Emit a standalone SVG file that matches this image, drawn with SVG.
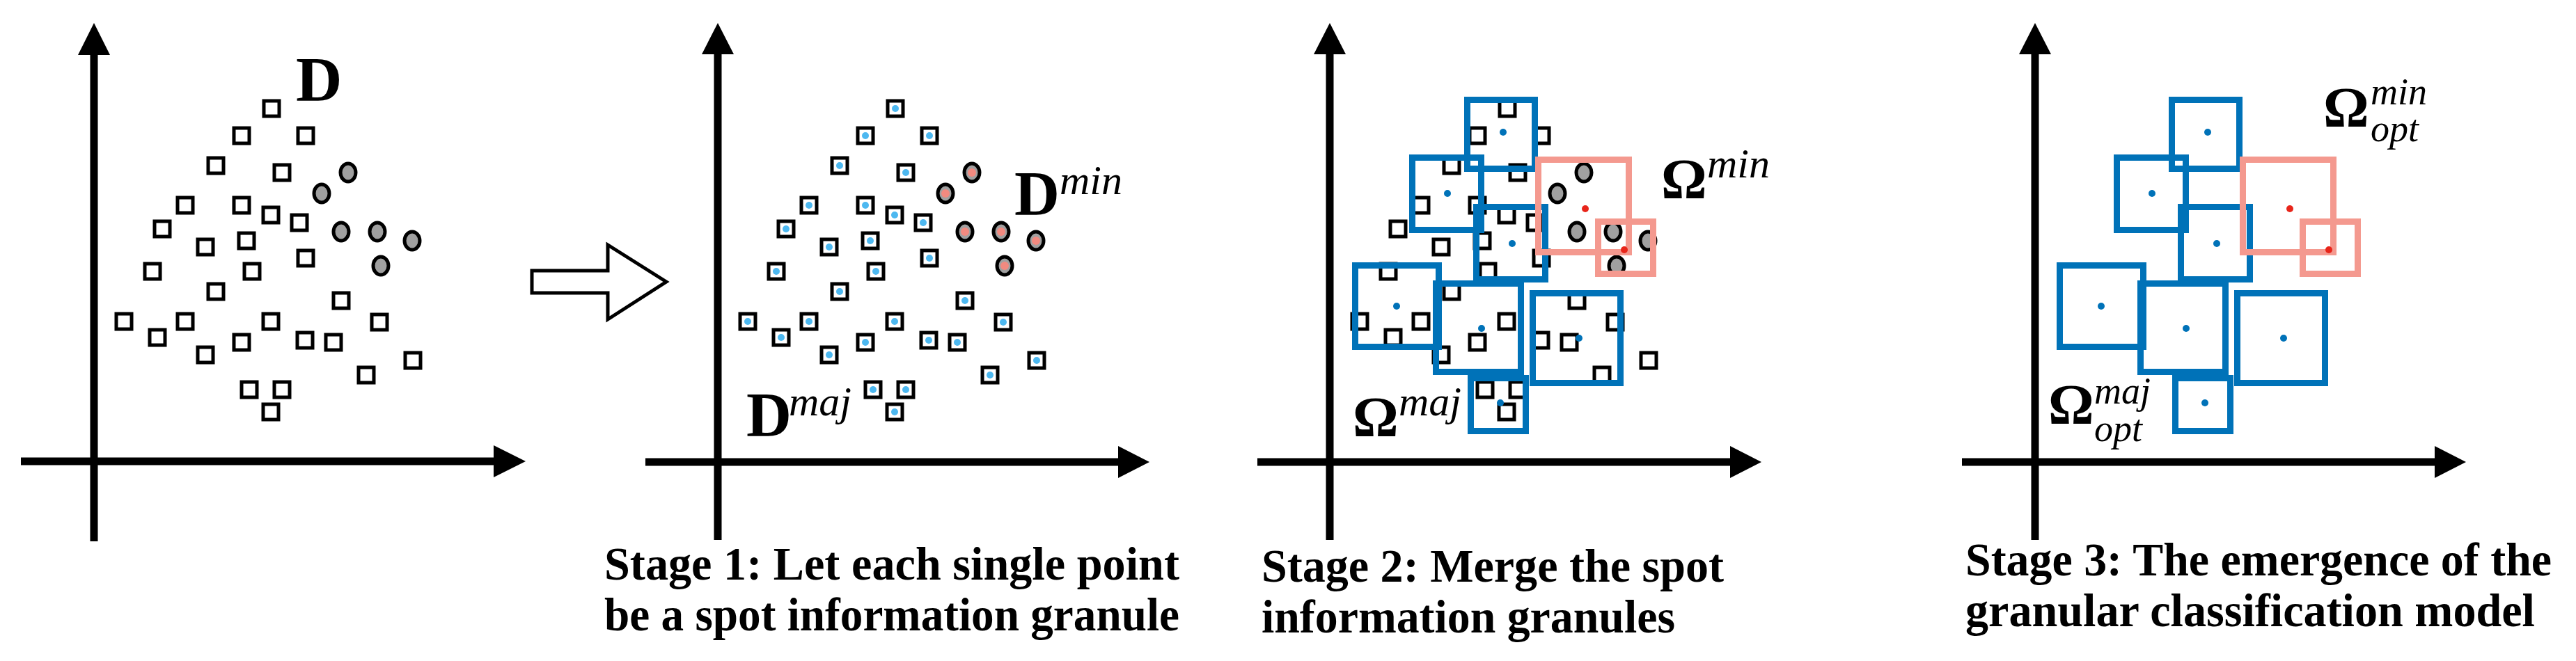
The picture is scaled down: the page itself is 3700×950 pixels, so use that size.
<svg xmlns="http://www.w3.org/2000/svg" xmlns:xlink="http://www.w3.org/1999/xlink" width="3700" height="950" viewBox="0 0 3700 950">
<style>
.ax{stroke:#000;stroke-width:11;fill:none}
.sq{fill:#fff;stroke:#000;stroke-width:5}
.ci{fill:#a0a0a0;stroke:#000;stroke-width:5}
.bd{fill:#4db8f0}
.pd{fill:#f28a80}
.bb{fill:none;stroke:#0072b8;stroke-width:9}
.pb{fill:none;stroke:#f4998f;stroke-width:9}
.cb{fill:#0072b8}
.cr{fill:#e8251a}
.lb{font-family:"Liberation Serif","Times New Roman",serif;font-weight:bold}
.it{font-family:"Liberation Serif","Times New Roman",serif;font-style:italic}
.cap{font-family:"Liberation Serif","Times New Roman",serif;font-weight:bold;font-size:68px}
</style>
<defs>
<g id="sqs">
<rect class="sq" x="379" y="145" width="22" height="22"/><rect class="sq" x="336" y="184" width="22" height="22"/><rect class="sq" x="428" y="184" width="22" height="22"/><rect class="sq" x="299" y="227" width="22" height="22"/><rect class="sq" x="394" y="237" width="22" height="22"/><rect class="sq" x="255" y="284" width="22" height="22"/><rect class="sq" x="336" y="284" width="22" height="22"/><rect class="sq" x="378" y="298" width="22" height="22"/><rect class="sq" x="419" y="309" width="22" height="22"/><rect class="sq" x="222" y="318" width="22" height="22"/><rect class="sq" x="343" y="335" width="22" height="22"/><rect class="sq" x="284" y="344" width="22" height="22"/><rect class="sq" x="428" y="360" width="22" height="22"/><rect class="sq" x="208" y="379" width="22" height="22"/><rect class="sq" x="351" y="379" width="22" height="22"/><rect class="sq" x="299" y="408" width="22" height="22"/><rect class="sq" x="479" y="421" width="22" height="22"/><rect class="sq" x="167" y="451" width="22" height="22"/><rect class="sq" x="255" y="451" width="22" height="22"/><rect class="sq" x="378" y="451" width="22" height="22"/><rect class="sq" x="534" y="452" width="22" height="22"/><rect class="sq" x="215" y="474" width="22" height="22"/><rect class="sq" x="336" y="481" width="22" height="22"/><rect class="sq" x="427" y="478" width="22" height="22"/><rect class="sq" x="468" y="481" width="22" height="22"/><rect class="sq" x="284" y="499" width="22" height="22"/><rect class="sq" x="582" y="507" width="22" height="22"/><rect class="sq" x="515" y="528" width="22" height="22"/><rect class="sq" x="347" y="549" width="22" height="22"/><rect class="sq" x="394" y="549" width="22" height="22"/><rect class="sq" x="378" y="581" width="22" height="22"/>
</g>
<g id="cis">
<ellipse class="ci" cx="500" cy="248" rx="11" ry="13"/><ellipse class="ci" cx="462" cy="278" rx="11" ry="13"/><ellipse class="ci" cx="490" cy="333" rx="11" ry="13"/><ellipse class="ci" cx="542" cy="333" rx="11" ry="13"/><ellipse class="ci" cx="592" cy="346" rx="11" ry="13"/><ellipse class="ci" cx="547" cy="382" rx="11" ry="13"/>
</g>
<g id="sqd">
<circle class="bd" cx="390" cy="156" r="5"/><circle class="bd" cx="347" cy="195" r="5"/><circle class="bd" cx="439" cy="195" r="5"/><circle class="bd" cx="310" cy="238" r="5"/><circle class="bd" cx="405" cy="248" r="5"/><circle class="bd" cx="266" cy="295" r="5"/><circle class="bd" cx="347" cy="295" r="5"/><circle class="bd" cx="389" cy="309" r="5"/><circle class="bd" cx="430" cy="320" r="5"/><circle class="bd" cx="233" cy="329" r="5"/><circle class="bd" cx="354" cy="346" r="5"/><circle class="bd" cx="295" cy="355" r="5"/><circle class="bd" cx="439" cy="371" r="5"/><circle class="bd" cx="219" cy="390" r="5"/><circle class="bd" cx="362" cy="390" r="5"/><circle class="bd" cx="310" cy="419" r="5"/><circle class="bd" cx="490" cy="432" r="5"/><circle class="bd" cx="178" cy="462" r="5"/><circle class="bd" cx="266" cy="462" r="5"/><circle class="bd" cx="389" cy="462" r="5"/><circle class="bd" cx="545" cy="463" r="5"/><circle class="bd" cx="226" cy="485" r="5"/><circle class="bd" cx="347" cy="492" r="5"/><circle class="bd" cx="438" cy="489" r="5"/><circle class="bd" cx="479" cy="492" r="5"/><circle class="bd" cx="295" cy="510" r="5"/><circle class="bd" cx="593" cy="518" r="5"/><circle class="bd" cx="526" cy="539" r="5"/><circle class="bd" cx="358" cy="560" r="5"/><circle class="bd" cx="405" cy="560" r="5"/><circle class="bd" cx="389" cy="592" r="5"/>
</g>
<g id="cid">
<circle class="pd" cx="500" cy="248" r="6"/><circle class="pd" cx="462" cy="278" r="6"/><circle class="pd" cx="490" cy="333" r="6"/><circle class="pd" cx="542" cy="333" r="6"/><circle class="pd" cx="592" cy="346" r="6"/><circle class="pd" cx="547" cy="382" r="6"/>
</g>
<g id="boxes">
<rect class="bb" x="2107.5" y="143.5" width="97" height="99"/>
<rect class="bb" x="2028.5" y="226.5" width="99" height="104"/>
<rect class="bb" x="2120.5" y="297.5" width="99" height="104"/>
<rect class="bb" x="1946.5" y="381.5" width="120" height="117"/>
<rect class="bb" x="2062.5" y="407.5" width="122" height="127"/>
<rect class="bb" x="2201.5" y="421.5" width="126" height="129"/>
<rect class="bb" x="2112.5" y="543.5" width="79" height="76"/>
<rect class="pb" x="2209.5" y="229.5" width="130" height="133"/>
<rect class="pb" x="2295.5" y="318.5" width="79" height="75"/>
<circle class="cb" cx="2159" cy="190" r="5"/><circle class="cb" cx="2079" cy="278" r="5"/><circle class="cb" cx="2172" cy="350" r="5"/><circle class="cb" cx="2006" cy="440" r="5"/><circle class="cb" cx="2128" cy="472" r="5"/><circle class="cb" cx="2268" cy="486" r="5"/><circle class="cb" cx="2155" cy="579" r="5"/>
<circle class="cr" cx="2277" cy="300" r="5"/><circle class="cr" cx="2333" cy="359" r="5"/>
</g>
</defs>
<g id="connectors">
<g id="axes1"><line class="ax" x1="135" y1="778" x2="135" y2="75"/><polygon points="112,79 158,79 135,33"/><line class="ax" x1="30" y1="663" x2="712" y2="663"/><polygon points="709,640 709,686 755,663"/></g>
<g id="axes2"><line class="ax" x1="1031" y1="776" x2="1031" y2="75"/><polygon points="1008,78 1054,78 1031,33"/><line class="ax" x1="927" y1="664" x2="1609" y2="664"/><polygon points="1606,641 1606,687 1651,664"/></g>
<g id="axes3"><line class="ax" x1="1910" y1="776" x2="1910" y2="75"/><polygon points="1887,78 1933,78 1910,33"/><line class="ax" x1="1806" y1="664" x2="2488" y2="664"/><polygon points="2485,641 2485,687 2530,664"/></g>
<g id="axes4"><line class="ax" x1="2923" y1="776" x2="2923" y2="75"/><polygon points="2900,78 2946,78 2923,33"/><line class="ax" x1="2818" y1="664" x2="3500" y2="664"/><polygon points="3497,641 3497,687 3542,664"/></g>
<polygon id="bigarrow" points="764,389 873,389 873,352 957,405 873,459 873,421 764,421" fill="#fff" stroke="#000" stroke-width="5"/>
</g>
<g id="panel1">
<use href="#sqs"/><use href="#cis"/>
<text class="lb" x="425" y="145" font-size="92">D</text>
</g>
<g id="panel2">
<use href="#sqs" x="896"/><use href="#sqd" x="896"/><use href="#cis" x="896"/><use href="#cid" x="896"/>
<text class="lb" x="1457" y="309" font-size="90">D</text><text class="it" x="1522" y="279" font-size="60">min</text>
<text class="lb" x="1072" y="627" font-size="90">D</text><text class="it" x="1133" y="597" font-size="60">maj</text>
<text class="cap" x="868" y="833" textLength="826" lengthAdjust="spacingAndGlyphs">Stage 1: Let each single point</text>
<text class="cap" x="868" y="906" textLength="826" lengthAdjust="spacingAndGlyphs">be a spot information granule</text>
</g>
<g id="panel3">
<use href="#sqs" x="1775"/><use href="#cis" x="1775"/><use href="#boxes"/>
<text class="lb" x="2386" y="285" font-size="82">Ω</text><text class="it" x="2452" y="255" font-size="60">min</text>
<text class="lb" x="1943" y="627" font-size="82">Ω</text><text class="it" x="2009" y="597" font-size="60">maj</text>
<text class="cap" x="1812" y="836" textLength="664" lengthAdjust="spacingAndGlyphs">Stage 2: Merge the spot</text>
<text class="cap" x="1812" y="909" textLength="594" lengthAdjust="spacingAndGlyphs">information granules</text>
</g>
<g id="panel4">
<use href="#boxes" x="1012"/>
<text class="lb" x="3337" y="182" font-size="82">Ω</text><text class="it" x="3405" y="150" font-size="54">min</text><text class="it" x="3405" y="203" font-size="54">opt</text>
<text class="lb" x="2942" y="609" font-size="82">Ω</text><text class="it" x="3008" y="580" font-size="54">maj</text><text class="it" x="3008" y="634" font-size="54">opt</text>
<text class="cap" x="2823" y="827" textLength="842" lengthAdjust="spacingAndGlyphs">Stage 3: The emergence of the</text>
<text class="cap" x="2823" y="900" textLength="818" lengthAdjust="spacingAndGlyphs">granular classification model</text>
</g>
</svg>
